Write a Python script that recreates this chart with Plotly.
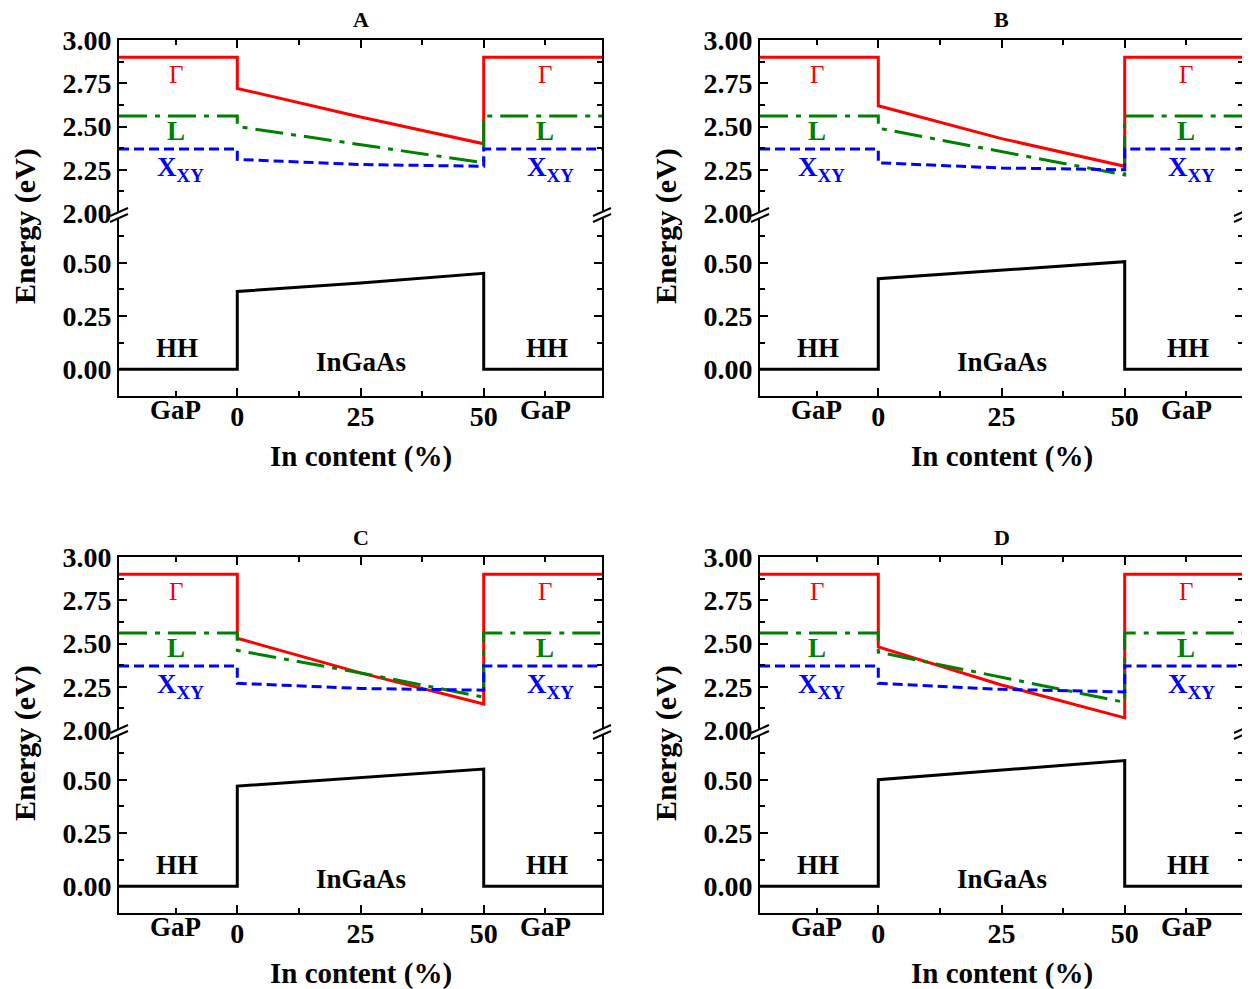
import plotly.graph_objects as go

# ---------------- data ----------------
panel_names = ["A", "B", "C", "D"]
x_gap_left = [-24, 0]
x_ingaas = [0, 25, 50]
x_gap_right = [50, 74]

gamma_gap = 2.90
l_gap = 2.56
x_gap = 2.37
hh_gap = 0.0

gamma_A = [2.72, 2.555, 2.40]
gamma_B = [2.62, 2.43, 2.27]
gamma_C = [2.53, 2.33, 2.15]
gamma_D = [2.48, 2.26, 2.07]

l_A = [2.50, 2.395, 2.29]
l_B = [2.49, 2.355, 2.22]
l_C = [2.46, 2.33, 2.19]
l_D = [2.45, 2.305, 2.16]

xxy_A = [2.31, 2.28, 2.27]
xxy_B = [2.29, 2.26, 2.25]
xxy_C = [2.27, 2.24, 2.23]
xxy_D = [2.27, 2.235, 2.22]

hh_A = [0.365, 0.405, 0.45]
hh_B = [0.425, 0.465, 0.505]
hh_C = [0.47, 0.51, 0.55]
hh_D = [0.50, 0.545, 0.59]

gamma_sets = [gamma_A, gamma_B, gamma_C, gamma_D]
l_sets = [l_A, l_B, l_C, l_D]
xxy_sets = [xxy_A, xxy_B, xxy_C, xxy_D]
hh_sets = [hh_A, hh_B, hh_C, hh_D]

upper_ticks = [2.0, 2.25, 2.5, 2.75, 3.0]
upper_ticktext = ["2.00", "2.25", "2.50", "2.75", "3.00"]
lower_ticks = [0.0, 0.25, 0.5]
lower_ticktext = ["0.00", "0.25", "0.50"]
x_ticks = [0, 25, 50]
x_ticktext = ["0", "25", "50"]

# ---------------- layout geometry (pixels of the page) ----------------
OFF = 8                      # body margin of the page
W, H = 1250 - OFF, 989 - OFF
FONT = "Liberation Serif"
panel_px = [  # (left, right, top, break, bottom)
    (119, 602, 40, 213, 396),
    (760, 1243, 40, 213, 396),
    (119, 602, 557, 730, 913),
    (760, 1243, 557, 730, 913),
]


def px(x):
    return (x - OFF) / W


def py(y):
    return 1 - (y - OFF) / H


def step(gap, vals):
    xs = x_gap_left + x_ingaas + x_gap_right
    ys = [gap, gap] + list(vals) + [gap, gap]
    return xs, ys


fig = go.Figure()
layout = dict(
    width=W, height=H,
    margin=dict(l=0, r=0, t=0, b=0, pad=0, autoexpand=False),
    paper_bgcolor="white", plot_bgcolor="white",
    showlegend=False,
    shapes=[], annotations=[],
)

tickfont = dict(family=FONT, size=28, color="black", weight="bold")


def txt(text, x, y, xref="paper", yref="paper", size=26, color="black",
        bold=True, angle=0):
    f = dict(family=FONT, size=size, color=color)
    if bold:
        f["weight"] = "bold"
    return dict(text=text, x=x, y=y, xref=xref, yref=yref, showarrow=False,
                xanchor="center", yanchor="middle", textangle=angle, font=f)


for p in range(4):
    L, R, T, B, BOT = panel_px[p]
    lo = 2 * p + 1
    up = 2 * p + 2
    xlo = "x" if lo == 1 else f"x{lo}"
    ylo = "y" if lo == 1 else f"y{lo}"
    xup, yup = f"x{up}", f"y{up}"
    xlo_key = "xaxis" if lo == 1 else f"xaxis{lo}"
    ylo_key = "yaxis" if lo == 1 else f"yaxis{lo}"

    common_x = dict(
        domain=[px(L), px(R)], range=[-24, 74], showgrid=False, zeroline=False,
        showline=True, linewidth=2, linecolor="black", automargin=False,
        ticks="inside", ticklen=8, tickwidth=2, tickcolor="black",
        tickvals=x_ticks, ticktext=x_ticktext, tickfont=tickfont,
        minor=dict(tickvals=[-12.5, 12.5, 37.5, 62.5], ticks="inside",
                   ticklen=5, tickwidth=2, tickcolor="black"),
    )
    layout[xlo_key] = dict(common_x, anchor=ylo, mirror=False, ticklabelstandoff=-6)
    layout[f"xaxis{up}"] = dict(common_x, anchor=yup, side="top",
                                showticklabels=False, mirror=False)
    common_y = dict(
        showgrid=False, zeroline=False, showline=True, linewidth=2,
        linecolor="black", mirror="ticks", ticks="inside", ticklen=8,
        tickwidth=2, tickcolor="black", tickfont=tickfont, automargin=False,
    )
    layout[ylo_key] = dict(
        common_y, domain=[py(BOT), py(B)], range=[-0.125, 0.733], anchor=xlo,
        tickvals=lower_ticks, ticktext=lower_ticktext,
        minor=dict(tickvals=[0.125, 0.375, 0.625], ticks="inside", ticklen=5,
                   tickwidth=2, tickcolor="black"),
    )
    layout[f"yaxis{up}"] = dict(
        common_y, domain=[py(B), py(T)], range=[2.0, 3.0], anchor=xup,
        tickvals=upper_ticks, ticktext=upper_ticktext,
        minor=dict(tickvals=[2.125, 2.375, 2.625, 2.875], ticks="inside",
                   ticklen=5, tickwidth=2, tickcolor="black"),
    )

    # traces
    xs, ys = step(hh_gap, hh_sets[p])
    fig.add_trace(go.Scatter(x=xs, y=ys, xaxis=xlo, yaxis=ylo, mode="lines",
                             line=dict(color="black", width=3)))
    xs, ys = step(gamma_gap, gamma_sets[p])
    fig.add_trace(go.Scatter(x=xs, y=ys, xaxis=xup, yaxis=yup, mode="lines",
                             line=dict(color="#ff0000", width=3)))
    xs, ys = step(l_gap, l_sets[p])
    fig.add_trace(go.Scatter(x=xs, y=ys, xaxis=xup, yaxis=yup, mode="lines",
                             line=dict(color="#008000", width=3,
                                       dash="28px,8px,5px,8px")))
    xs, ys = step(x_gap, xxy_sets[p])
    fig.add_trace(go.Scatter(x=xs, y=ys, xaxis=xup, yaxis=yup, mode="lines",
                             line=dict(color="#0000ff", width=3, dash="10px,5px")))

    # axis break marks
    for ax in (L, R):
        yc = B + 2
        layout["shapes"].append(dict(type="line", xref="paper", yref="paper",
                                     x0=px(ax), x1=px(ax), y0=py(yc + 3), y1=py(yc - 3),
                                     line=dict(color="white", width=5), layer="above"))
        for off in (-3, 3):
            layout["shapes"].append(dict(type="line", xref="paper", yref="paper",
                                         x0=px(ax - 9), y0=py(yc + off + 4),
                                         x1=px(ax + 9), y1=py(yc + off - 4),
                                         line=dict(color="black", width=2), layer="above"))

    center0 = L + (0 + 24) / 98 * (R - L)
    center50 = L + (50 + 24) / 98 * (R - L)
    mid = (center0 + center50) / 2
    ann = layout["annotations"]
    ann.append(txt(panel_names[p], px(mid), py(T - 20), size=22))
    ann.append(txt("In content (%)", px(mid), py(BOT + 60), size=29))
    ann.append(txt("Energy (eV)", px(L - 94), py((T + BOT) / 2 + 8), size=30, angle=-90))
    for gx in (-12.5, 62.5):
        ann.append(txt("GaP", gx, py(BOT + 14), xref=xlo, size=27))
        ann.append(txt("Γ", gx, 2.80, xref=xup, yref=yup, size=25,
                       color="#ff0000", bold=False))
        ann.append(txt("L", gx, 2.475, xref=xup, yref=yup, size=27, color="#008000"))
        ann.append(txt("X<sub>XY</sub>", gx + 1.0, 2.255, xref=xup, yref=yup,
                       size=27, color="#0000ff"))
        ann.append(txt("HH", gx + 0.3, 0.10, xref=xlo, yref=ylo, size=27))
    ann.append(txt("InGaAs", 25, 0.035, xref=xlo, yref=ylo, size=27))

fig.update_layout(**layout)
fig.write_html("out.html")
